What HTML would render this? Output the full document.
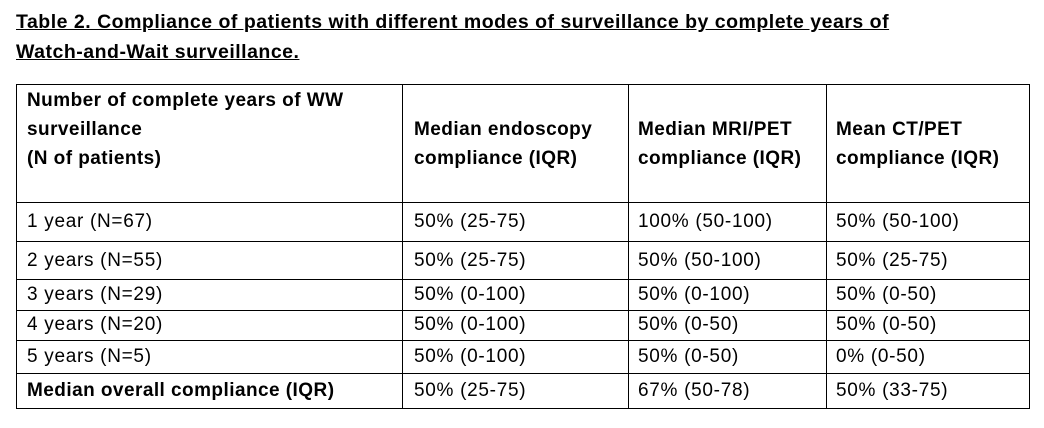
<!DOCTYPE html>
<html><head><meta charset="utf-8"><style>
body{margin:0;background:#fff;width:1044px;height:428px;overflow:hidden;position:relative;font-family:"Liberation Sans",Arial,sans-serif;color:#000}
.t{position:absolute;white-space:nowrap;font-size:19px;letter-spacing:0.7px;line-height:22px;transform:translateY(-11px)}
.b{font-weight:bold;letter-spacing:0.45px}
.title{position:absolute;left:16px;font-size:19.5px;font-weight:bold;text-decoration:underline;white-space:nowrap;line-height:22px;transform:translateY(-11px);letter-spacing:0.5px}
.h{position:absolute;background:#000;height:1px}
.v{position:absolute;background:#000;width:1px}
</style></head><body>
<div class="title" style="top:22px">Table 2. Compliance of patients with different modes of surveillance by complete years of</div>
<div class="title" style="top:52px">Watch-and-Wait surveillance.</div>
<div>
<div class="h" style="left:16px;width:1014px;top:84px"></div>
<div class="h" style="left:16px;width:1014px;top:202px"></div>
<div class="h" style="left:16px;width:1014px;top:241px"></div>
<div class="h" style="left:16px;width:1014px;top:279px"></div>
<div class="h" style="left:16px;width:1014px;top:310px"></div>
<div class="h" style="left:16px;width:1014px;top:340px"></div>
<div class="h" style="left:16px;width:1014px;top:373px"></div>
<div class="h" style="left:16px;width:1014px;top:408px"></div>
<div class="v" style="left:16px;top:84px;height:325px"></div>
<div class="v" style="left:402px;top:84px;height:325px"></div>
<div class="v" style="left:628px;top:84px;height:325px"></div>
<div class="v" style="left:826px;top:84px;height:325px"></div>
<div class="v" style="left:1029px;top:84px;height:325px"></div>

<div class="t b" style="left:27px;top:101px">Number of complete years of WW</div>
<div class="t b" style="left:27px;top:130px">surveillance</div>
<div class="t b" style="left:27px;top:159px">(N of patients)</div>
<div class="t b" style="left:414px;top:130px">Median endoscopy</div>
<div class="t b" style="left:414px;top:159px">compliance (IQR)</div>
<div class="t b" style="left:638px;top:130px">Median MRI/PET</div>
<div class="t b" style="left:638px;top:159px">compliance (IQR)</div>
<div class="t b" style="left:836px;top:130px">Mean CT/PET</div>
<div class="t b" style="left:836px;top:159px">compliance (IQR)</div>

<div class="t" style="left:27px;top:222px">1 year (N=67)</div>
<div class="t" style="left:414px;top:222px">50% (25-75)</div>
<div class="t" style="left:638px;top:222px">100% (50-100)</div>
<div class="t" style="left:836px;top:222px">50% (50-100)</div>

<div class="t" style="left:27px;top:261px">2 years (N=55)</div>
<div class="t" style="left:414px;top:261px">50% (25-75)</div>
<div class="t" style="left:638px;top:261px">50% (50-100)</div>
<div class="t" style="left:836px;top:261px">50% (25-75)</div>

<div class="t" style="left:27px;top:295px">3 years (N=29)</div>
<div class="t" style="left:414px;top:295px">50% (0-100)</div>
<div class="t" style="left:638px;top:295px">50% (0-100)</div>
<div class="t" style="left:836px;top:295px">50% (0-50)</div>

<div class="t" style="left:27px;top:325px">4 years (N=20)</div>
<div class="t" style="left:414px;top:325px">50% (0-100)</div>
<div class="t" style="left:638px;top:325px">50% (0-50)</div>
<div class="t" style="left:836px;top:325px">50% (0-50)</div>

<div class="t" style="left:27px;top:357px">5 years (N=5)</div>
<div class="t" style="left:414px;top:357px">50% (0-100)</div>
<div class="t" style="left:638px;top:357px">50% (0-50)</div>
<div class="t" style="left:836px;top:357px">0% (0-50)</div>

<div class="t b" style="left:27px;top:391px">Median overall compliance (IQR)</div>
<div class="t" style="left:414px;top:391px">50% (25-75)</div>
<div class="t" style="left:638px;top:391px">67% (50-78)</div>
<div class="t" style="left:836px;top:391px">50% (33-75)</div>
</div>
</body></html>
